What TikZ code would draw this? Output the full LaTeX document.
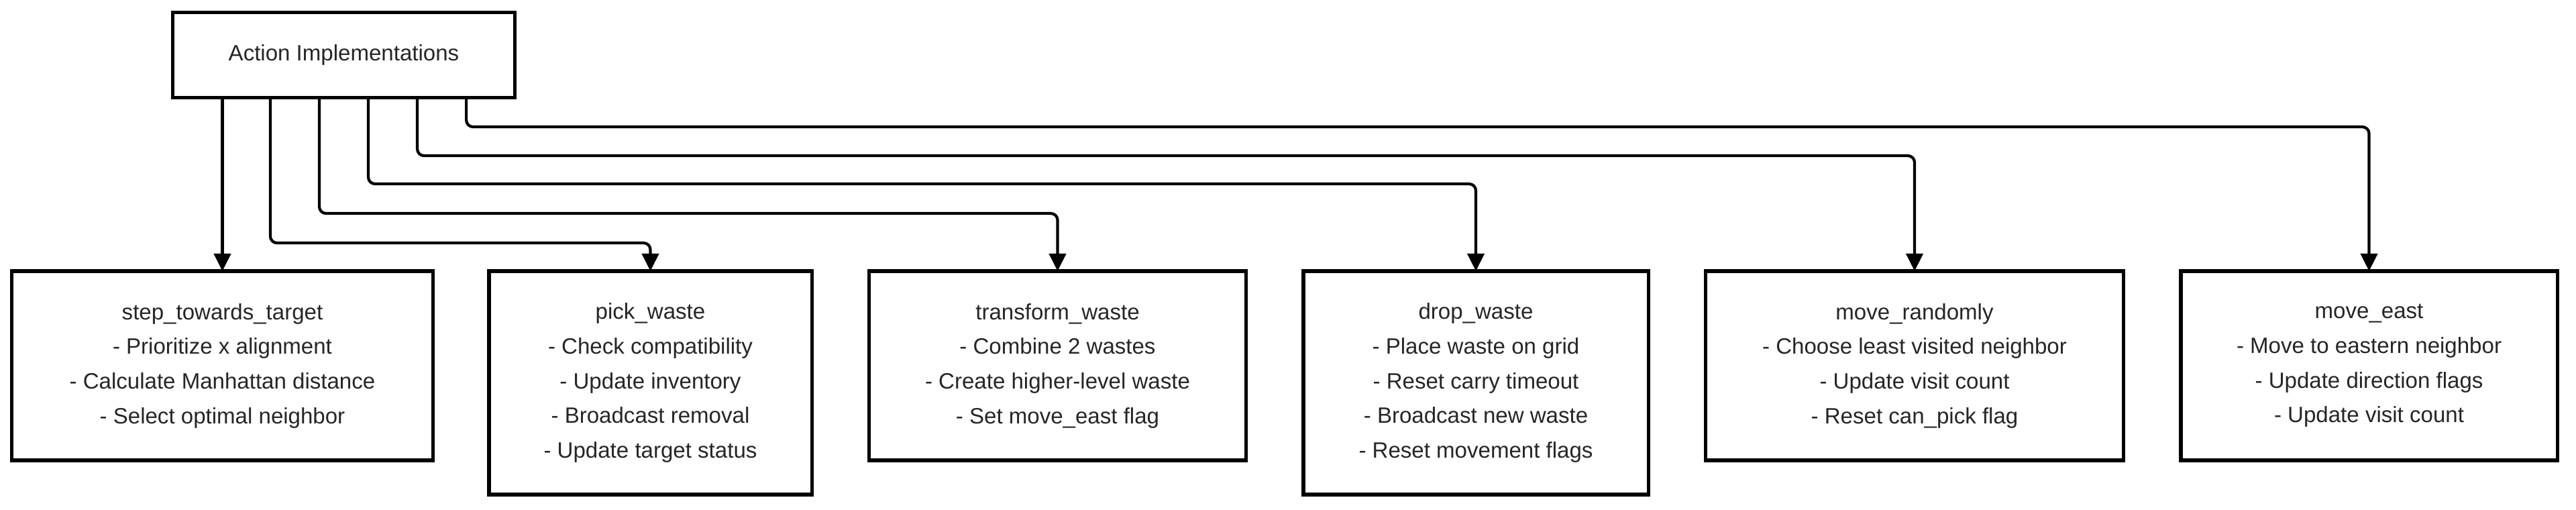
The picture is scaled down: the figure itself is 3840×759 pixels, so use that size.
\documentclass[tikz,border=0pt]{standalone}
\usepackage{fontspec}
\setmainfont{Liberation Sans}
\usetikzlibrary{arrows.meta}
\begin{document}
\begin{tikzpicture}[x=0.01cm,y=-0.01cm,
  box/.style={draw=black, line width=1.5pt, fill=white, inner sep=0pt, outer sep=0pt, align=center,
    font=\fontsize{9.4}{14.7}\selectfont, text=black!85},
  conn/.style={draw=black, line width=1.2pt, rounded corners=0.1cm,
    -{Triangle[length=0.26cm,width=0.25cm]}}]
\useasboundingbox (0,0) rectangle (3840,759);
\node[box, minimum width=5.10cm, minimum height=1.27cm] (root) at (512.5,82) {Action Implementations};
\node[box, minimum width=6.27cm, minimum height=2.82cm] (s1) at (331.5,545)
  {step\_towards\_target\\- Prioritize x alignment\\- Calculate Manhattan distance\\- Select optimal neighbor};
\node[box, minimum width=4.81cm, minimum height=3.33cm] (s2) at (969.5,570.5)
  {pick\_waste\\- Check compatibility\\- Update inventory\\- Broadcast removal\\- Update target status};
\node[box, minimum width=5.61cm, minimum height=2.82cm] (s3) at (1576.5,545)
  {transform\_waste\\- Combine 2 wastes\\- Create higher-level waste\\- Set move\_east flag};
\node[box, minimum width=5.14cm, minimum height=3.33cm] (s4) at (2200,570.5)
  {drop\_waste\\- Place waste on grid\\- Reset carry timeout\\- Broadcast new waste\\- Reset movement flags};
\node[box, minimum width=6.22cm, minimum height=2.82cm] (s5) at (2854,545)
  {move\_randomly\\- Choose least visited neighbor\\- Update visit count\\- Reset can\_pick flag};
\node[box, minimum width=5.61cm, minimum height=2.82cm] (s6) at (3531.5,545)
  {move\_east\\- Move to eastern neighbor\\- Update direction flags\\- Update visit count};
\draw[conn] (root.south -| s1.north) -- (s1.north);
\draw[conn] ([xshift=-1.095cm]root.south) -- ++(0,216.5) -| (s2.north);
\draw[conn] ([xshift=-0.365cm]root.south) -- ++(0,172.5) -| (s3.north);
\draw[conn] ([xshift=0.365cm]root.south) -- ++(0,128.5) -| (s4.north);
\draw[conn] ([xshift=1.095cm]root.south) -- ++(0,86.5) -| (s5.north);
\draw[conn] ([xshift=1.825cm]root.south) -- ++(0,43.5) -| (s6.north);
\end{tikzpicture}
\end{document}
